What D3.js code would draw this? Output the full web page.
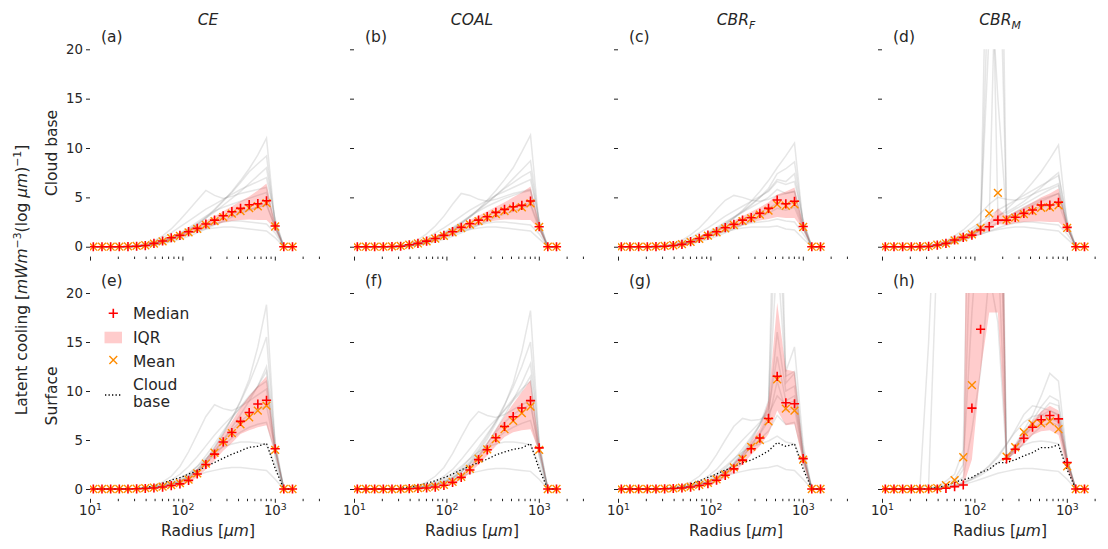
<!DOCTYPE html>
<html><head><meta charset="utf-8">
<script src="https://cdn.jsdelivr.net/npm/d3@7"></script>
<style>
body{margin:0;background:#fff}
text{font-family:"DejaVu Sans",sans-serif;fill:#262626}
</style>
</head><body>
<svg id="c" width="1108" height="549"></svg>
<script>
// ---------------- DATA ----------------
const radius = [10.86,13.48,16.73,20.76,25.76,31.96,39.65,49.2,61.04,75.74,93.97,116.6,144.7,179.5,222.7,276.4,342.9,425.5,527.9,655,812.8,1008.5,1251,1553];
const titles = ["CE","COAL","CBR","CBR"];
const titleSubs = ["","","F","M"];
const letters = ["(a)","(b)","(c)","(d)","(e)","(f)","(g)","(h)"];
const rowLabels = ["Cloud base","Surface"];
const yTicks = [0,5,10,15,20];
const xMajor = [10,100,1000];
const xMinor = [20,30,40,50,60,70,80,90,200,300,400,500,600,700,800,900,2000,3000];
const legendLabels = ["Median","IQR","Mean","Cloud","base"];

// Panel (a) CE cloud base
const med_a  = [0,0,0,0,0.02,0.05,0.12,0.34,0.58,0.91,1.15,1.52,1.86,2.3,2.7,3.14,3.55,3.89,4.26,4.36,4.66,2.1,0,0];
const mean_a = [0,0,0,0,0.03,0.08,0.15,0.32,0.55,0.86,1.1,1.45,1.8,2.22,2.6,3.0,3.35,3.62,3.92,4.1,4.42,2.05,0,0];
const q25_a  = [0,0,0,0,0.01,0.03,0.08,0.22,0.42,0.7,0.95,1.25,1.55,1.9,2.2,2.45,2.6,2.7,2.75,2.7,2.7,1.8,0,0];
const q75_a  = [0,0,0,0,0.03,0.08,0.2,0.45,0.72,1.08,1.4,1.8,2.2,2.65,3.1,3.6,4.1,4.6,5.1,5.7,6.4,2.3,0,0];
const members_a = [
 [0,0,0,0,0,0.05,0.1,0.2,0.4,0.7,1.1,1.6,2.2,2.9,3.7,4.6,5.6,6.7,7.9,9.3,11.0,2.2,0,0],
 [0,0,0,0,0,0.05,0.1,0.3,0.5,0.8,1.2,1.7,2.3,3.0,3.8,4.7,5.5,6.5,7.6,8.4,9.2,2.4,0,0],
 [0,0,0,0,0.02,0.1,0.3,0.6,1.1,1.8,2.7,3.7,4.7,5.7,5.2,4.9,5.1,5.4,5.6,5.8,6.0,1.8,0,0],
 [0,0,0,0,0,0.05,0.15,0.35,0.6,0.9,1.3,1.8,2.3,2.9,3.5,4.2,4.9,5.6,6.4,7.2,8.0,2.6,0,0],
 [0,0,0,0,0,0.03,0.1,0.3,0.55,0.85,1.2,1.55,1.9,2.3,2.7,3.0,3.3,3.6,3.8,4.0,4.2,2.0,0,0],
 [0,0,0,0,0,0.02,0.08,0.2,0.4,0.65,0.95,1.3,1.65,2.0,2.3,2.5,2.6,2.6,2.5,2.4,2.3,1.4,0,0],
 [0,0,0,0,0,0.03,0.1,0.25,0.5,0.8,1.1,1.4,1.6,1.8,1.9,2.0,2.0,1.9,1.8,1.7,1.6,0.9,0,0],
 [0,0,0,0,0.02,0.1,0.25,0.5,0.9,1.4,2.0,2.6,3.2,3.8,4.3,4.8,5.3,5.8,6.2,6.6,7.0,2.8,0,0],
 [0,0,0,0,0,0.05,0.15,0.35,0.65,1.0,1.4,1.9,2.5,3.1,3.6,4.0,4.3,4.6,4.9,5.2,5.5,2.3,0,0],
 [0,0,0,0,0,0.02,0.05,0.15,0.3,0.5,0.75,1.05,1.4,1.8,2.2,2.6,3.0,3.4,3.7,4.0,4.4,1.9,0,0]
];

// Panel (b) COAL cloud base
const med_b  = [0,0,0,0,0.02,0.05,0.2,0.34,0.57,0.84,1.15,1.52,1.96,2.33,2.7,3.04,3.48,3.78,4.05,4.19,4.63,2.03,0,0];
const mean_b = [0,0,0,0,0.03,0.08,0.2,0.33,0.55,0.82,1.1,1.46,1.88,2.25,2.6,2.95,3.3,3.6,3.85,4.0,4.4,2.0,0,0];
const q25_b  = [0,0,0,0,0.01,0.03,0.1,0.22,0.42,0.65,0.95,1.25,1.6,1.95,2.25,2.5,2.65,2.75,2.75,2.7,2.7,1.75,0,0];
const q75_b  = [0,0,0,0,0.03,0.08,0.28,0.45,0.72,1.05,1.4,1.8,2.25,2.7,3.15,3.6,4.05,4.5,5.0,5.5,6.1,2.3,0,0];
const members_b = [
 [0,0,0,0,0,0.05,0.1,0.25,0.45,0.75,1.15,1.65,2.3,3.0,3.8,4.7,5.7,6.8,8.0,9.6,11.3,2.1,0,0],
 [0,0,0,0,0.02,0.1,0.3,0.7,1.3,2.1,3.1,4.3,5.4,5.2,4.8,4.6,4.8,5.1,5.4,5.6,5.8,1.9,0,0],
 [0,0,0,0,0,0.05,0.15,0.35,0.6,0.95,1.35,1.85,2.4,3.0,3.7,4.4,5.2,6.0,6.9,7.8,8.7,2.5,0,0],
 [0,0,0,0,0,0.03,0.1,0.3,0.55,0.85,1.2,1.6,2.0,2.4,2.8,3.2,3.5,3.8,4.0,4.2,4.4,2.0,0,0],
 [0,0,0,0,0,0.02,0.08,0.2,0.4,0.65,0.95,1.25,1.6,1.9,2.2,2.4,2.5,2.5,2.4,2.3,2.2,1.3,0,0],
 [0,0,0,0,0.02,0.1,0.25,0.5,0.9,1.4,1.9,2.5,3.1,3.7,4.2,4.7,5.2,5.6,6.0,6.4,6.8,2.7,0,0],
 [0,0,0,0,0,0.03,0.1,0.25,0.45,0.7,1.0,1.3,1.55,1.75,1.9,2.0,2.0,1.9,1.8,1.7,1.6,0.8,0,0],
 [0,0,0,0,0,0.05,0.15,0.35,0.65,1.0,1.45,1.95,2.5,3.1,3.6,4.1,4.5,4.9,5.2,5.5,5.7,2.2,0,0],
 [0,0,0,0,0,0.05,0.12,0.3,0.55,0.9,1.3,1.8,2.4,3.1,3.8,4.5,5.2,5.9,6.5,7.1,7.6,2.4,0,0],
 [0,0,0,0,0,0.02,0.05,0.15,0.3,0.5,0.75,1.05,1.4,1.8,2.2,2.6,3.0,3.3,3.6,3.9,4.2,1.8,0,0]
];

// Panel (c) CBR_F cloud base
const med_c  = [0,0,0,0,0.02,0.05,0.12,0.24,0.51,0.84,1.18,1.52,1.93,2.26,2.7,2.94,3.38,3.89,4.73,4.35,4.6,2.05,0,0];
const mean_c = [0,0,0,0,0.03,0.08,0.15,0.26,0.5,0.8,1.12,1.46,1.85,2.2,2.6,2.88,3.25,3.65,4.3,4.15,4.3,2.0,0,0];
const q25_c  = [0,0,0,0,0.01,0.03,0.08,0.15,0.38,0.65,0.95,1.25,1.6,1.9,2.2,2.45,2.65,2.8,3.0,2.9,2.9,1.75,0,0];
const q75_c  = [0,0,0,0,0.03,0.08,0.2,0.35,0.65,1.0,1.4,1.8,2.25,2.65,3.1,3.55,4.0,4.5,5.3,5.6,6.0,2.3,0,0];
const members_c = [
 [0,0,0,0,0,0.05,0.1,0.25,0.45,0.75,1.1,1.6,2.2,2.9,3.7,4.6,5.6,6.7,8.0,9.2,10.5,2.2,0,0],
 [0,0,0,0,0.02,0.1,0.3,0.65,1.2,1.9,2.8,3.8,4.7,5.2,5.0,4.7,4.6,4.8,5.2,5.4,5.6,1.8,0,0],
 [0,0,0,0,0,0.05,0.15,0.35,0.6,0.95,1.35,1.8,2.3,2.9,3.5,4.2,5.0,5.9,7.4,7.9,8.6,2.5,0,0],
 [0,0,0,0,0,0.03,0.1,0.3,0.55,0.85,1.2,1.6,2.0,2.4,2.8,3.2,3.5,3.9,4.4,4.3,4.5,2.0,0,0],
 [0,0,0,0,0,0.02,0.08,0.2,0.4,0.65,0.95,1.25,1.6,1.9,2.2,2.4,2.5,2.6,2.8,2.6,2.5,1.3,0,0],
 [0,0,0,0,0.02,0.1,0.25,0.5,0.9,1.4,1.9,2.5,3.1,3.6,4.1,4.6,5.1,5.6,6.6,6.3,6.6,2.7,0,0],
 [0,0,0,0,0,0.03,0.1,0.25,0.45,0.7,1.0,1.3,1.55,1.75,1.9,2.0,2.0,2.0,2.1,1.8,1.7,0.8,0,0],
 [0,0,0,0,0,0.05,0.15,0.35,0.65,1.0,1.45,1.95,2.5,3.0,3.5,4.0,4.5,5.0,5.8,5.4,5.6,2.2,0,0],
 [0,0,0,0,0,0.05,0.12,0.3,0.55,0.9,1.3,1.8,2.4,3.0,3.6,4.3,5.0,5.7,6.8,6.6,7.4,2.4,0,0],
 [0,0,0,0,0,0.02,0.05,0.15,0.3,0.5,0.75,1.05,1.4,1.8,2.2,2.6,3.0,3.4,3.9,3.7,4.0,1.8,0,0]
];

// Panel (d) CBR_M cloud base
const med_d  = [0,0,0,0,0.01,0.03,0.17,0.34,0.68,0.95,1.18,1.69,2.03,2.7,2.7,2.98,3.38,3.72,4.22,4.22,4.5,1.96,0,0];
const mean_d = [0,0,0,0,0.02,0.06,0.2,0.35,0.65,0.95,1.25,1.9,3.38,5.45,2.75,2.95,3.3,3.6,3.95,4.0,4.2,1.9,0,0];
const q25_d  = [0,0,0,0,0.01,0.02,0.1,0.22,0.48,0.72,0.92,1.35,1.7,2.3,2.2,2.4,2.5,2.55,2.55,2.5,2.5,1.7,0,0];
const q75_d  = [0,0,0,0,0.02,0.05,0.25,0.45,0.85,1.2,1.5,2.05,2.6,3.9,3.1,3.55,4.0,4.5,5.0,5.4,5.9,2.2,0,0];
const members_d = [
 [0,0,0,0,0,0.05,0.15,0.35,0.65,1.0,1.5,2.2,45,3.2,3.5,4.0,4.6,5.3,6.0,6.8,7.5,2.2,0,0],
 [0,0,0,0,0,0.05,0.15,0.35,0.65,1.0,1.4,2.0,2.8,38,3.3,3.8,4.3,4.8,5.3,5.8,6.2,2.0,0,0],
 [0,0,0,0,0,0.03,0.1,0.3,0.55,0.85,1.2,1.7,30,15,3.0,3.4,3.8,4.2,4.6,5.0,5.4,2.4,0,0],
 [0,0,0,0,0,0.05,0.1,0.25,0.5,0.8,1.2,1.7,2.3,3.0,3.8,4.6,5.5,6.5,7.6,8.9,10.3,2.3,0,0],
 [0,0,0,0,0.02,0.1,0.3,0.6,1.1,1.7,2.5,3.4,4.3,5.0,4.8,4.7,4.9,5.3,5.7,6.0,6.4,1.9,0,0],
 [0,0,0,0,0,0.03,0.1,0.3,0.55,0.85,1.2,1.6,2.0,2.4,2.8,3.2,3.5,3.8,4.0,4.2,4.4,2.0,0,0],
 [0,0,0,0,0,0.02,0.08,0.2,0.4,0.65,0.95,1.25,1.6,1.9,2.2,2.4,2.5,2.5,2.4,2.3,2.2,1.3,0,0],
 [0,0,0,0,0.02,0.1,0.25,0.5,0.9,1.4,1.9,2.5,3.1,3.7,4.2,4.7,5.2,5.7,6.2,6.7,7.2,2.7,0,0],
 [0,0,0,0,0,0.03,0.1,0.25,0.45,0.7,1.0,1.3,1.55,1.75,1.9,2.0,2.0,1.9,1.8,1.7,1.6,0.8,0,0],
 [0,0,0,0,0,0.05,0.15,0.4,0.7,1.1,1.6,2.4,22,60,3.0,3.5,4.0,4.4,4.8,5.1,5.4,2.0,0,0]
];

// Panel (e) CE surface
const med_e  = [0,0,0,0,0,0.02,0.05,0.1,0.2,0.35,0.52,0.88,1.53,2.5,3.56,4.8,5.76,6.9,7.8,8.67,9.05,4.1,0,0];
const mean_e = [0,0,0,0,0.01,0.03,0.08,0.15,0.25,0.4,0.6,0.95,1.6,2.6,3.7,4.8,5.7,6.6,7.3,8.0,8.5,4.0,0,0];
const q25_e  = [0,0,0,0,0,0.01,0.03,0.06,0.12,0.22,0.35,0.65,1.2,2.0,2.9,3.9,4.7,5.6,6.0,6.3,6.5,3.7,0,0];
const q75_e  = [0,0,0,0,0,0.03,0.08,0.15,0.28,0.5,0.75,1.15,1.9,3.0,4.2,5.6,6.9,8.3,9.5,10.5,11.5,4.4,0,0];
const members_e = [
 [0,0,0,0,0,0.03,0.08,0.15,0.3,0.5,0.8,1.3,2.0,3.0,4.2,5.6,7.2,9.0,11.2,14.5,18.8,4.5,0,0],
 [0,0,0,0,0,0.03,0.08,0.15,0.3,0.5,0.8,1.3,2.0,3.0,4.3,5.7,7.2,8.9,10.8,13.0,15.5,4.3,0,0],
 [0,0,0,0,0.02,0.05,0.15,0.35,0.7,1.3,2.3,3.8,5.6,7.4,8.6,8.2,8.0,8.4,9.0,9.6,10.2,3.8,0,0],
 [0,0,0,0,0,0.02,0.05,0.1,0.2,0.35,0.6,1.0,1.7,2.6,3.8,5.0,6.3,7.6,9.0,10.5,12.5,4.8,0,0],
 [0,0,0,0,0,0.02,0.05,0.12,0.25,0.45,0.75,1.2,1.8,2.6,3.5,4.4,5.2,5.8,6.3,6.6,6.8,3.6,0,0],
 [0,0,0,0,0,0.03,0.08,0.2,0.4,0.7,1.1,1.6,2.3,3.1,3.8,4.3,4.6,4.8,4.8,4.7,4.5,2.5,0,0],
 [0,0,0,0,0,0.02,0.05,0.15,0.3,0.5,0.8,1.1,1.4,1.7,1.9,2.1,2.2,2.2,2.1,2.0,1.9,1.0,0,0],
 [0,0,0,0,0,0.03,0.08,0.18,0.35,0.6,0.95,1.5,2.3,3.4,4.6,5.9,7.2,8.4,9.5,10.4,11.0,4.2,0,0],
 [0,0,0,0,0,0.02,0.06,0.15,0.3,0.5,0.8,1.25,1.9,2.8,3.9,5.0,6.0,6.9,7.6,8.1,8.5,4.0,0,0],
 [0,0,0,0,0.02,0.05,0.12,0.25,0.5,0.9,1.5,2.3,3.3,4.4,5.5,6.5,7.4,8.3,9.3,10.5,12.0,3.2,0,0]
];

// Panel (f) COAL surface
const med_f  = [0,0,0,0,0,0,0.03,0.06,0.1,0.2,0.38,0.68,1.19,1.94,3.0,4.0,5.23,6.38,7.38,8.27,9.02,4.2,0,0];
const mean_f = [0,0,0,0,0,0.01,0.04,0.08,0.13,0.25,0.42,0.72,1.25,2.05,3.1,4.05,5.1,6.1,6.95,7.74,8.42,4.0,0,0];
const q25_f  = [0,0,0,0,0,0,0.01,0.03,0.06,0.12,0.25,0.5,0.95,1.6,2.5,3.4,4.4,5.3,5.8,6.0,6.1,3.8,0,0];
const q75_f  = [0,0,0,0,0,0.01,0.05,0.1,0.16,0.3,0.55,0.9,1.5,2.35,3.5,4.7,6.1,7.4,8.7,9.9,11.1,4.5,0,0];
const members_f = [
 [0,0,0,0,0,0.02,0.05,0.1,0.2,0.4,0.7,1.1,1.7,2.6,3.8,5.1,6.7,8.5,10.8,14.0,18.2,4.6,0,0],
 [0,0,0,0,0,0.02,0.05,0.12,0.25,0.45,0.75,1.2,1.9,2.8,4.0,5.4,6.9,8.6,10.4,12.5,15.0,4.4,0,0],
 [0,0,0,0,0.02,0.05,0.15,0.35,0.7,1.3,2.2,3.6,5.3,6.9,7.9,7.5,7.3,7.6,8.1,8.6,9.0,3.6,0,0],
 [0,0,0,0,0,0.02,0.04,0.08,0.15,0.3,0.5,0.85,1.4,2.2,3.3,4.6,6.0,7.5,9.1,10.8,12.8,4.8,0,0],
 [0,0,0,0,0,0.02,0.05,0.1,0.2,0.4,0.7,1.1,1.7,2.5,3.4,4.3,5.1,5.8,6.3,6.7,7.0,3.7,0,0],
 [0,0,0,0,0,0.02,0.06,0.15,0.35,0.65,1.05,1.6,2.3,3.1,3.8,4.3,4.6,4.8,4.8,4.7,4.5,2.5,0,0],
 [0,0,0,0,0,0.02,0.05,0.12,0.25,0.45,0.7,1.0,1.3,1.6,1.8,2.0,2.1,2.1,2.0,1.9,1.8,1.0,0,0],
 [0,0,0,0,0,0.02,0.06,0.14,0.3,0.55,0.9,1.4,2.1,3.1,4.3,5.6,6.9,8.1,9.2,10.2,11.0,4.2,0,0],
 [0,0,0,0,0,0.02,0.05,0.12,0.25,0.45,0.75,1.15,1.75,2.6,3.6,4.7,5.8,6.8,7.6,8.2,8.6,4.0,0,0],
 [0,0,0,0,0.02,0.04,0.1,0.2,0.4,0.75,1.3,2.0,3.0,4.1,5.2,6.2,7.1,8.0,9.0,10.0,11.5,3.3,0,0]
];

// Panel (g) CBR_F surface
const med_g  = [0,0,0,0,0,0.02,0.05,0.1,0.2,0.35,0.55,0.9,1.4,2.05,2.95,4.1,5.2,7.2,11.5,8.8,8.7,3.1,0,0];
const mean_g = [0,0,0,0,0.01,0.03,0.07,0.14,0.25,0.42,0.62,0.98,1.5,2.2,3.1,4.3,5.0,6.9,11.2,8.2,8.0,3.0,0,0];
const q25_g  = [0,0,0,0,0,0.01,0.03,0.06,0.12,0.22,0.38,0.65,1.1,1.7,2.5,3.5,4.4,5.6,8.0,6.5,6.6,2.6,0,0];
const q75_g  = [0,0,0,0,0,0.03,0.07,0.15,0.28,0.5,0.75,1.2,1.8,2.6,3.6,4.9,6.2,9.0,19.0,12.2,12.0,3.8,0,0];
const members_g = [
 [0,0,0,0,0,0.02,0.05,0.1,0.2,0.4,0.7,1.1,1.7,2.5,3.6,4.9,6.5,9.0,32,12.0,14.5,4.5,0,0],
 [0,0,0,0,0,0.02,0.05,0.12,0.25,0.45,0.75,1.2,1.8,2.7,3.8,5.1,6.6,8.5,24,11.5,12.0,4.0,0,0],
 [0,0,0,0,0.02,0.05,0.15,0.35,0.7,1.3,2.2,3.5,5.0,6.4,7.2,7.0,7.1,7.6,9.5,8.6,9.0,3.5,0,0],
 [0,0,0,0,0,0.02,0.04,0.08,0.15,0.3,0.5,0.85,1.4,2.2,3.2,4.4,5.7,7.5,16,10.0,10.5,3.8,0,0],
 [0,0,0,0,0,0.02,0.05,0.1,0.2,0.4,0.7,1.1,1.7,2.5,3.4,4.3,5.1,5.9,7.5,6.6,6.8,3.3,0,0],
 [0,0,0,0,0,0.02,0.06,0.15,0.35,0.65,1.05,1.6,2.3,3.1,3.8,4.3,4.6,4.9,5.4,4.8,4.6,2.5,0,0],
 [0,0,0,0,0,0.02,0.05,0.12,0.25,0.45,0.7,1.0,1.3,1.6,1.8,2.0,2.1,2.2,2.4,2.0,1.9,1.0,0,0],
 [0,0,0,0,0,0.02,0.06,0.14,0.3,0.55,0.9,1.4,2.1,3.0,4.1,5.3,6.6,8.0,13.5,9.0,9.5,3.4,0,0],
 [0,0,0,0,0,0.02,0.05,0.12,0.25,0.45,0.75,1.15,1.75,2.6,3.6,4.6,5.6,7.0,11.0,8.0,8.3,3.0,0,0],
 [0,0,0,0,0.02,0.04,0.1,0.2,0.4,0.75,1.3,2.0,3.0,4.0,5.0,5.9,6.8,8.2,45,10.8,11.8,3.2,0,0]
];

// Panel (h) CBR_M surface
const med_h  = [0,0,0,0,0,0,0,0.07,0.24,0.41,8.25,16.3,35,28,3.07,4.06,5.18,6.3,7.06,7.5,7.16,2.7,0,0];
const mean_h = [0,0,0,0,0,0.03,0.1,0.4,0.9,3.24,10.6,40,45,30,3.3,4.26,5.8,6.65,6.7,6.9,6.1,2.3,0,0];
const q25_h  = [0,0,0,0,0,0,0,0.03,0.12,0.3,3.0,12,18,18,2.9,3.7,4.6,5.5,5.9,6.0,5.5,2.0,0,0];
const q75_h  = [0,0,0,0,0,0,0.02,0.1,0.35,0.6,80,90,90,70,3.4,4.5,5.9,7.0,7.9,8.5,8.0,3.2,0,0];
const members_h = [
 [0,0,0,0,0,0.05,0.3,0.8,1.5,4.0,50,80,90,60,3.2,4.5,6.0,7.5,9.5,11.8,11.0,3.0,0,0],
 [0,0,0,0,0,0.5,25,40,50,60,70,70,60,40,3.0,4.0,5.3,6.5,7.8,8.8,8.5,3.2,0,0],
 [0,0,0,0,0,0.05,0.2,0.5,1.0,2.5,18,30,40,25,3.1,4.3,5.5,6.8,7.5,8.0,7.5,2.6,0,0],
 [0,0,0,0,0,0.03,0.1,0.3,0.6,1.2,6,12,22,17,3.0,3.8,4.7,5.6,6.4,6.8,6.5,2.5,0,0],
 [0,0,0,0,0,0.02,0.08,0.2,0.4,0.7,1.1,1.6,2.3,3.2,4.5,6.0,7.6,8.5,8.3,8.0,7.6,3.0,0,0],
 [0,0,0,0,0,0.02,0.06,0.15,0.35,0.6,0.95,1.4,2.0,2.7,3.4,4.0,4.5,4.8,4.9,4.8,4.6,2.2,0,0],
 [0,0,0,0,0,0.02,0.05,0.12,0.25,0.45,0.7,1.0,1.3,1.6,1.8,2.0,2.1,2.1,2.0,1.9,1.8,1.0,0,0],
 [0,0,0,0,0,0.03,0.1,0.3,0.7,2.0,30,55,75,45,2.9,4.2,5.6,7.0,8.4,9.5,9.0,2.9,0,0],
 [0,0,0,0,0,0.02,0.06,0.15,0.3,0.6,1.0,1.6,2.4,3.4,4.6,5.8,6.8,7.4,7.6,7.2,6.8,2.8,0,0],
 [0,0,0,0,0.2,15,35,45,55,65,75,80,70,50,3.3,4.4,5.5,6.2,6.8,7.2,7.0,2.7,0,0]
];

const panels = [
 {med:med_a,mean:mean_a,q25:q25_a,q75:q75_a,members:members_a,cloud:null},
 {med:med_b,mean:mean_b,q25:q25_b,q75:q75_b,members:members_b,cloud:null},
 {med:med_c,mean:mean_c,q25:q25_c,q75:q75_c,members:members_c,cloud:null},
 {med:med_d,mean:mean_d,q25:q25_d,q75:q75_d,members:members_d,cloud:null},
 {med:med_e,mean:mean_e,q25:q25_e,q75:q75_e,members:members_e,cloud:med_a},
 {med:med_f,mean:mean_f,q25:q25_f,q75:q75_f,members:members_f,cloud:med_b},
 {med:med_g,mean:mean_g,q25:q25_g,q75:q75_g,members:members_g,cloud:med_c},
 {med:med_h,mean:mean_h,q25:q25_h,q75:q75_h,members:members_h,cloud:med_d}
];

// ---------------- LAYOUT ----------------
const svg = d3.select("#c");
const W = 236;
const lefts = [90,354,618,882];
const rows = [{top:49.3,bottom:256.6},{top:293,bottom:498.8}];
const FS = 15.5, TFS = 13.3;
const plusPath = "M-4.6,0H4.6M0,-4.6V4.6";
const crossPath = "M-3.9,-3.9L3.9,3.9M-3.9,3.9L3.9,-3.9";
const defs = svg.append("defs");

panels.forEach((p,k)=>{
  const row = Math.floor(k/4), col = k%4;
  const L = lefts[col], R = rows[row];
  const x = d3.scaleLog().domain([10,3580]).range([L, L+W]);
  const y = d3.scaleLinear().domain([-1,20]).range([R.bottom, R.top]);
  const g = svg.append("g");
  const cid = "clip"+k;
  defs.append("clipPath").attr("id",cid).append("rect")
    .attr("x",L).attr("y",R.top).attr("width",W).attr("height",R.bottom-R.top);
  const pg = g.append("g").attr("clip-path",`url(#${cid})`);
  const line = d3.line().x((d,i)=>x(radius[i])).y(d=>y(d));

  pg.selectAll("path.mem").data(p.members).join("path").attr("class","mem")
    .attr("d",line).attr("fill","none").attr("stroke","#808080")
    .attr("stroke-opacity",0.2).attr("stroke-width",1.5);

  const area = d3.area().x((d,i)=>x(radius[i])).y0((d,i)=>y(p.q25[i])).y1((d,i)=>y(p.q75[i]));
  pg.append("path").datum(p.q25).attr("d",area).attr("fill","red").attr("fill-opacity",0.2);

  if(p.cloud){
    pg.append("path").datum(p.cloud).attr("d",line).attr("fill","none")
      .attr("stroke","#000").attr("stroke-width",1.3).attr("stroke-dasharray","1.3,2.2");
  }
  pg.selectAll("path.mean").data(p.mean).join("path").attr("class","mean")
    .attr("transform",(d,i)=>`translate(${x(radius[i])},${y(d)})`)
    .attr("d",crossPath).attr("stroke","darkorange").attr("stroke-width",1.4).attr("fill","none");
  pg.selectAll("path.med").data(p.med).join("path").attr("class","med")
    .attr("transform",(d,i)=>`translate(${x(radius[i])},${y(d)})`)
    .attr("d",plusPath).attr("stroke","red").attr("stroke-width",1.6).attr("fill","none");

  // x axis
  const xa = g.append("g").attr("transform",`translate(0,${R.bottom})`)
    .call(d3.axisBottom(x).tickValues(xMajor).tickSize(4).tickFormat(()=>""));
  const xm = g.append("g").attr("transform",`translate(0,${R.bottom})`)
    .call(d3.axisBottom(x).tickValues(xMinor).tickSize(2.4).tickFormat(()=>""));
  [xa,xm].forEach(a=>{a.select(".domain").remove(); a.selectAll("line").attr("stroke","#222");});
  if(row===1){
    xa.selectAll(".tick text").each(function(d){
      const t = d3.select(this).attr("y",0).attr("dy",null)
        .attr("transform","translate(0,16.5)").attr("font-size",TFS).attr("fill","#262626")
        .style("font-family","DejaVu Sans");
      t.text(null);
      t.append("tspan").text("10");
      t.append("tspan").attr("dy",-5.5).attr("font-size",TFS*0.7).text(Math.round(Math.log10(d)));
    });
  }
  // y axis
  const ya = g.append("g").attr("transform",`translate(${L},0)`)
    .call(d3.axisLeft(y).tickValues(yTicks).tickSize(4).tickFormat(d=> col===0 ? d : ""));
  ya.select(".domain").remove();
  ya.selectAll("line").attr("stroke","#222");
  ya.selectAll("text").attr("font-size",TFS).attr("fill","#262626").attr("x",-7)
    .style("font-family","DejaVu Sans");

  // panel letter
  g.append("text").attr("x",L+11).attr("y",R.top-7).attr("font-size",FS).text(letters[k]);

  if(row===0){
    const t = g.append("text").attr("x",L+W/2).attr("y",25).attr("text-anchor","middle")
      .attr("font-size",FS).attr("font-style","italic");
    t.append("tspan").text(titles[col]);
    if(titleSubs[col]) t.append("tspan").attr("dy",3.5).attr("font-size",FS*0.7).text(titleSubs[col]);
  } else {
    const t = g.append("text").attr("x",L+W/2).attr("y",536).attr("text-anchor","middle").attr("font-size",FS);
    t.append("tspan").text("Radius [");
    t.append("tspan").attr("font-style","italic").text("μm");
    t.append("tspan").text("]");
  }
  if(col===0){
    svg.append("text").attr("transform",`translate(57,${(R.top+R.bottom)/2}) rotate(-90)`)
      .attr("text-anchor","middle").attr("font-size",FS).text(rowLabels[row]);
  }

  // legend in panel (e)
  if(k===4){
    const lg = svg.append("g");
    lg.append("path").attr("transform",`translate(${L+23.3},${R.top+20.3})`).attr("d",plusPath)
      .attr("stroke","red").attr("stroke-width",1.6);
    lg.append("text").attr("x",L+43).attr("y",R.top+26).attr("font-size",FS).text(legendLabels[0]);
    lg.append("rect").attr("x",L+14.5).attr("y",R.top+38.7).attr("width",17.5).attr("height",11.6)
      .attr("fill","red").attr("fill-opacity",0.2);
    lg.append("text").attr("x",L+43).attr("y",R.top+50).attr("font-size",FS).text(legendLabels[1]);
    lg.append("path").attr("transform",`translate(${L+23.3},${R.top+67})`).attr("d",crossPath)
      .attr("stroke","darkorange").attr("stroke-width",1.4);
    lg.append("text").attr("x",L+43).attr("y",R.top+73.5).attr("font-size",FS).text(legendLabels[2]);
    lg.append("line").attr("x1",L+15).attr("x2",L+32).attr("y1",R.top+102).attr("y2",R.top+102)
      .attr("stroke","#000").attr("stroke-width",1.3).attr("stroke-dasharray","1.3,2.2");
    lg.append("text").attr("x",L+43).attr("y",R.top+97).attr("font-size",FS).text(legendLabels[3]);
    lg.append("text").attr("x",L+43).attr("y",R.top+113.5).attr("font-size",FS).text(legendLabels[4]);
  }
});

// overall y label
const yl = svg.append("text").attr("transform","translate(27,280) rotate(-90)")
  .attr("text-anchor","middle").attr("font-size",FS);
yl.append("tspan").text("Latent cooling [");
yl.append("tspan").attr("font-style","italic").text("mWm");
yl.append("tspan").attr("dy",-6).attr("font-size",FS*0.7).text("−3");
yl.append("tspan").attr("dy",6).text("(log ");
yl.append("tspan").attr("font-style","italic").text("μm");
yl.append("tspan").text(")");
yl.append("tspan").attr("dy",-6).attr("font-size",FS*0.7).text("−1");
yl.append("tspan").attr("dy",6).text("]");
</script>
</body></html>
